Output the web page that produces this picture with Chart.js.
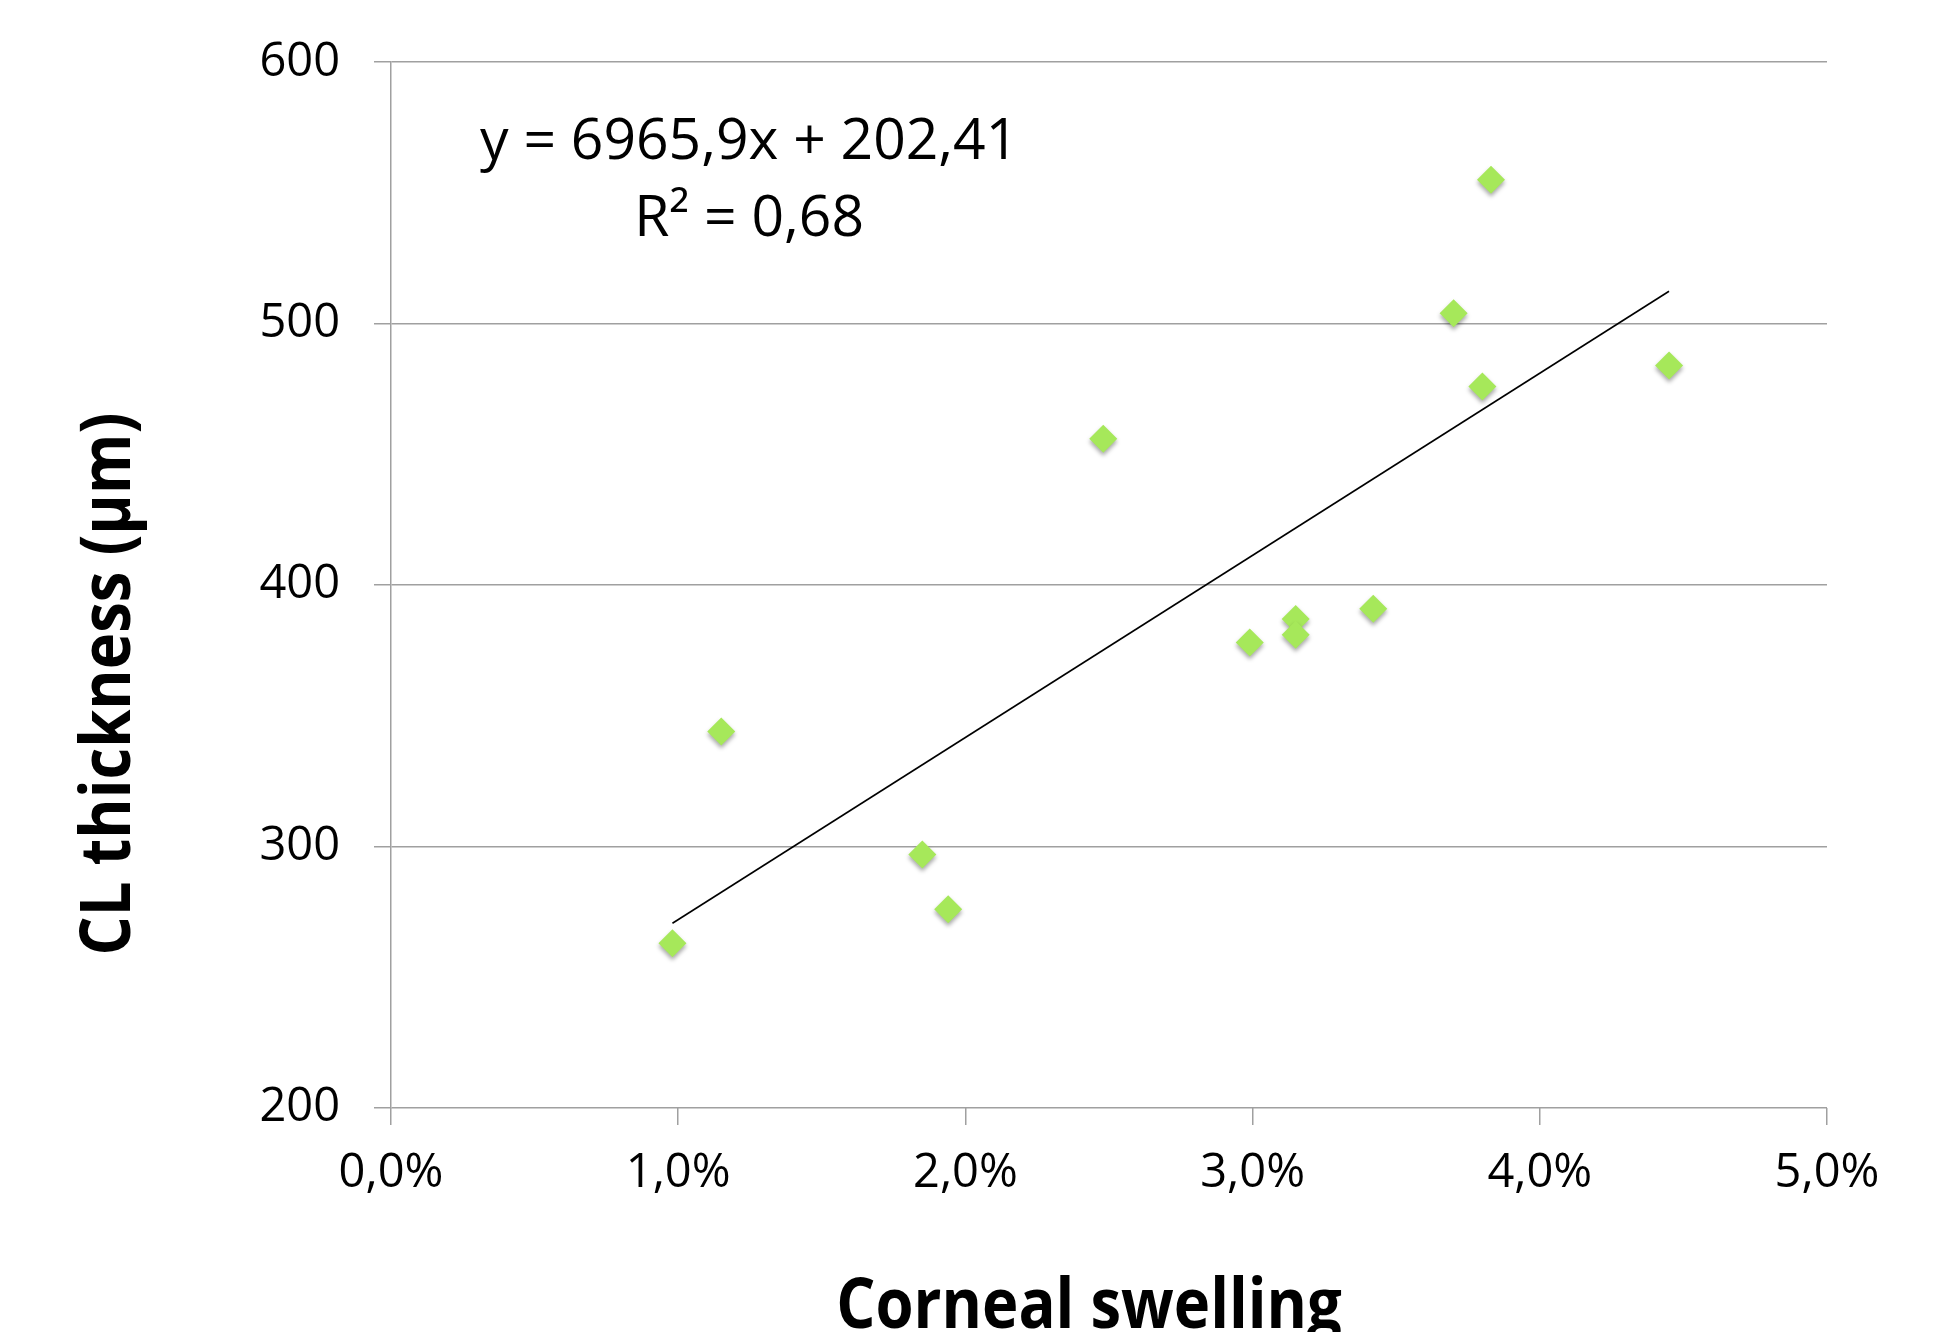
<!DOCTYPE html>
<html>
<head>
<meta charset="utf-8">
<script src="https://cdn.jsdelivr.net/npm/chart.js@4"></script>
<style>
	body { margin: 0; background: #fff; }
	#wrap { width: 1941px; height: 1332px; }
</style>
</head>
<body>
<div id="wrap">
	<canvas id="scatter-chart" width="1941" height="1332"></canvas>
</div>
<script>
// corneal swelling (fraction) and CL thickness (µm)
const swelling = [0.0098, 0.0115, 0.0185, 0.0194, 0.0248, 0.0299, 0.0315, 0.0315, 0.0342, 0.0370, 0.0380, 0.0383, 0.0445];
const thickness = [263, 344, 297, 276, 456, 378, 387, 381, 391, 504, 476, 555, 484];

// trendline as printed on the chart
const slope = 6965.9;
const intercept = 202.41;
const equationLines = ["y = 6965,9x + 202,41", "R² = 0,68"];

const yTicks = [200, 300, 400, 500, 600];
const xTicks = [0, 0.01, 0.02, 0.03, 0.04, 0.05];

const xTitle = "Corneal swelling";
const yTitle = "CL thickness (µm)";

const fontFamily = "'Open Sans', 'Noto Sans', sans-serif";

const points = swelling.map((x, i) => ({ x: x, y: thickness[i] }));
const xMin = Math.min(...swelling);
const xMax = Math.max(...swelling);
const trend = [
	{ x: xMin, y: slope * xMin + intercept },
	{ x: xMax, y: slope * xMax + intercept },
];

const pctLabel = (v) => (v * 100).toFixed(1).replace(".", ",") + "%";

// soft drop shadow under the diamonds
const markerShadow = {
	id: "markerShadow",
	beforeDatasetDraw(chart, args) {
		if (args.index !== 0) return;
		const ctx = chart.ctx;
		ctx.save();
		ctx.shadowColor = "rgba(0,0,0,0.35)";
		ctx.shadowBlur = 4;
		ctx.shadowOffsetY = 3;
	},
	afterDatasetDraw(chart, args) {
		if (args.index !== 0) return;
		chart.ctx.restore();
	},
};

// equation box (data coords) and the two bold axis titles, narrowed a bit
// so they look closer to the original Calibri
const overlayText = {
	id: "overlayText",
	afterDraw(chart) {
		const ctx = chart.ctx;
		const x = chart.scales.x.getPixelForValue(0.01247);
		const y = chart.scales.y.getPixelForValue(569);
		ctx.save();
		ctx.fillStyle = "#000";
		ctx.font = "57px " + fontFamily;
		ctx.textAlign = "center";
		ctx.textBaseline = "middle";
		equationLines.forEach((t, i) => ctx.fillText(t, x, y + i * 77));
		ctx.restore();

		const area = chart.chartArea;
		ctx.save();
		ctx.fillStyle = "#000";
		ctx.font = "bold 70px " + fontFamily;
		ctx.textAlign = "center";
		ctx.textBaseline = "alphabetic";
		ctx.translate((area.left + area.right) / 2 - 20, 1328);
		ctx.scale(0.88, 1);
		ctx.fillText(xTitle, 0, 0);
		ctx.restore();

		ctx.save();
		ctx.fillStyle = "#000";
		ctx.font = "bold 70px " + fontFamily;
		ctx.textAlign = "center";
		ctx.textBaseline = "alphabetic";
		ctx.translate(130, (area.top + area.bottom) / 2 + 99);
		ctx.rotate(-Math.PI / 2);
		ctx.scale(0.88, 1);
		ctx.fillText(yTitle, 0, 0);
		ctx.restore();
	},
};

const ctx = document.getElementById("scatter-chart").getContext("2d");

new Chart(ctx, {
	type: "scatter",
	data: {
		datasets: [
			{
				label: "CL thickness",
				data: points,
				pointStyle: "rectRot",
				pointRadius: 14,
				pointHoverRadius: 14,
				borderWidth: 0,
				backgroundColor: "#a6e85a",
				borderColor: "#a6e85a",
			},
			{
				type: "line",
				label: "Linear trend",
				data: trend,
				borderColor: "#000",
				borderWidth: 1.6,
				pointRadius: 0,
				fill: false,
			},
		],
	},
	options: {
		responsive: false,
		animation: false,
		devicePixelRatio: 1,
		layout: { padding: { left: 0, top: 62, right: 114, bottom: 0 } },
		plugins: {
			legend: { display: false },
			tooltip: { enabled: false },
		},
		scales: {
			x: {
				type: "linear",
				min: 0,
				max: 0.05,
				afterBuildTicks: (s) => { s.ticks = xTicks.map((v) => ({ value: v })); },
				afterFit: (s) => { s.height = 224; },
				grid: {
					drawOnChartArea: false,
					tickLength: 17,
					color: "#a0a0a0",
					lineWidth: 1.5,
				},
				border: { display: false },
				ticks: {
					padding: 20,
					color: "#000",
					font: { family: fontFamily, size: 47 },
					callback: (v) => pctLabel(v),
				},
			},
			y: {
				min: 200,
				max: 600,
				afterBuildTicks: (s) => { s.ticks = yTicks.map((v) => ({ value: v })); },
				afterFit: (s) => { s.width = 391; },
				grid: {
					tickLength: 17,
					color: "#a0a0a0",
					lineWidth: 1.5,
				},
				border: { display: true, color: "#a0a0a0", width: 1.5 },
				ticks: {
					padding: 34,
					color: "#000",
					font: { family: fontFamily, size: 47 },
				},
			},
		},
	},
	plugins: [markerShadow, overlayText],
});
</script>
</body>
</html>
